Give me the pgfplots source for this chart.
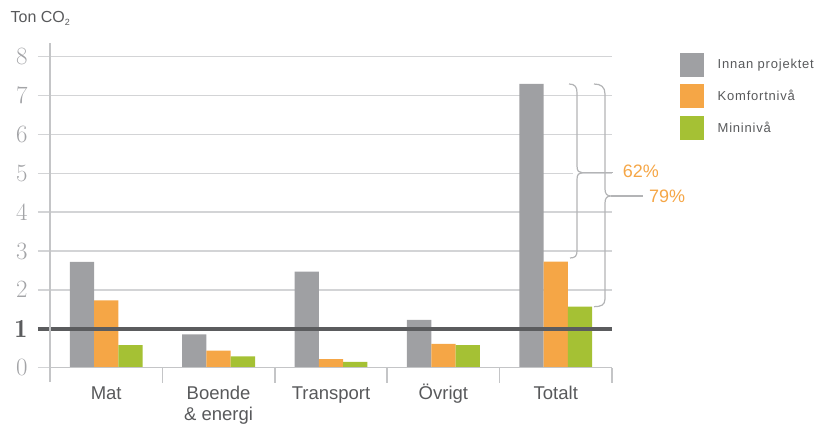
\documentclass[border=0pt]{standalone}
\usepackage{pgfplots}
\pgfplotsset{compat=1.18}
\usepackage{fontspec}
\newfontfamily\hel{Liberation Sans}
\newfontfamily\helleg[LetterSpace=6]{Liberation Sans}
\definecolor{cgray}{HTML}{9FA0A3}
\definecolor{corange}{HTML}{F5A646}
\definecolor{cgreen}{HTML}{A5C134}
\definecolor{cdark}{HTML}{5B5C5E}
\definecolor{cgrid}{HTML}{D3D4D6}
\definecolor{caxis}{HTML}{C4C5C7}
\definecolor{ctext}{HTML}{58595B}
\definecolor{ctick}{HTML}{A3A4A7}
\definecolor{cbrace}{HTML}{B3B4B6}
\pgfplotsset{sqlegend/.style={legend image code/.code={\draw[##1,draw=none] (0pt,-12pt) rectangle (24pt,12pt);}}}
\newcommand{\st}{\rule{0pt}{17pt}}
\begin{document}
\begin{tikzpicture}
\useasboundingbox (0,0) rectangle (824pt,425pt);
\begin{axis}[
  at={(50pt,57.3pt)}, anchor=south west,
  scale only axis, width=562pt, height=311pt,
  xmin=0, xmax=5, ymin=0, ymax=8,
  clip=false,
  axis line style={draw=none},
  ybar=0pt, bar width=0.216,
  every axis plot post/.append style={sqlegend},
  xtick pos=bottom, ytick pos=left,
  ytick={0,1,2,3,4,5,6,7,8},
  yticklabels={$0$,{$\color{cdark}\mathbf{1}$},$2$,$3$,$4$,$5$,$6$,$7$,$8$},
  yticklabel style={font=\fontsize{26}{26}\selectfont, text=ctick, xshift=-7pt},
  ymajorgrids, grid style={cgrid, line width=1.5pt},
  tick align=outside,
  y tick style={draw=cgrid, line width=1.5pt},
  major tick length=12pt,
  xtick={0.5,1.5,2.5,3.5,4.5},
  xticklabels={\st Mat,{\st Boende\\\& energi},\st Transport,\st Övrigt,\st Totalt},
  xticklabel style={align=center, yshift=1pt, font=\hel\fontsize{18.5}{21}\selectfont, text=ctext},
  x tick style={draw=none},
  extra x ticks={1,2,3,4,5},
  extra x tick labels={},
  extra x tick style={grid=none, x tick style={draw=caxis, line width=1.5pt}, major tick length=15pt},
  legend style={at={(axis cs:5.605,8.103)}, anchor=north west, draw=none, fill=none,
    inner sep=0pt, outer sep=0pt, row sep=7.5pt, column sep=11.7pt,
    cells={anchor=west, inner sep=0pt},
    font=\helleg\fontsize{13}{14}\selectfont, text=ctext},
]
\addplot[fill=cgray, draw=none] coordinates {(0.5,2.72) (1.5,0.86) (2.5,2.47) (3.5,1.23) (4.5,7.30)};
\addplot[fill=corange, draw=none] coordinates {(0.5,1.73) (1.5,0.44) (2.5,0.22) (3.5,0.61) (4.5,2.73)};
\addplot[fill=cgreen, draw=none] coordinates {(0.5,0.58) (1.5,0.29) (2.5,0.15) (3.5,0.58) (4.5,1.57)};
\legend{Innan projektet,Komfortnivå,Mininivå}
\draw[cdark, line width=4.3pt] (axis cs:-0.107,1) -- (axis cs:5,1);
\draw[caxis, line width=1.5pt] (axis cs:0,-0.37) -- (axis cs:0,8.35);
\draw[caxis, line width=1.5pt] (axis cs:0,0) -- (axis cs:5,0);
\end{axis}
\begin{scope}[x=1pt,y=1pt]
\node[anchor=west, inner sep=0pt, text=ctext, font=\hel\fontsize{16}{16}\selectfont] at (10.5,407) {Ton CO\raisebox{-0.35ex}{\fontsize{9}{9}\selectfont 2}};
\draw[white, line width=2.5pt] (573,252.3) -- (580,252.3);
\draw[cbrace, line width=1.2pt] (569,341) .. controls (575,341) and (577,338) .. (577,332) -- (577,259) .. controls (577,254) and (579,252.3) .. (582,252.3) .. controls (579,252.3) and (577,250.6) .. (577,245.6) -- (577,174) .. controls (577,169) and (575,167) .. (570,167);
\draw[cbrace, line width=1.2pt] (582,252.3) -- (613,252.3);
\draw[cbrace, line width=1.2pt] (594,341) .. controls (601,341) and (605,338) .. (605,331) -- (605,236) .. controls (605,231) and (607,229) .. (611,229) .. controls (607,229) and (605,227) .. (605,222) -- (605,126) .. controls (605,120) and (601,118.3) .. (594,118.3);
\draw[cbrace, line width=1.2pt] (611,229) -- (643,229);
\node[anchor=west, inner sep=0pt, text=corange, font=\hel\fontsize{18}{18}\selectfont] at (622.7,253.3) {62\%};
\node[anchor=west, inner sep=0pt, text=corange, font=\hel\fontsize{18}{18}\selectfont] at (649,229) {79\%};
\end{scope}
\end{tikzpicture}
\end{document}
